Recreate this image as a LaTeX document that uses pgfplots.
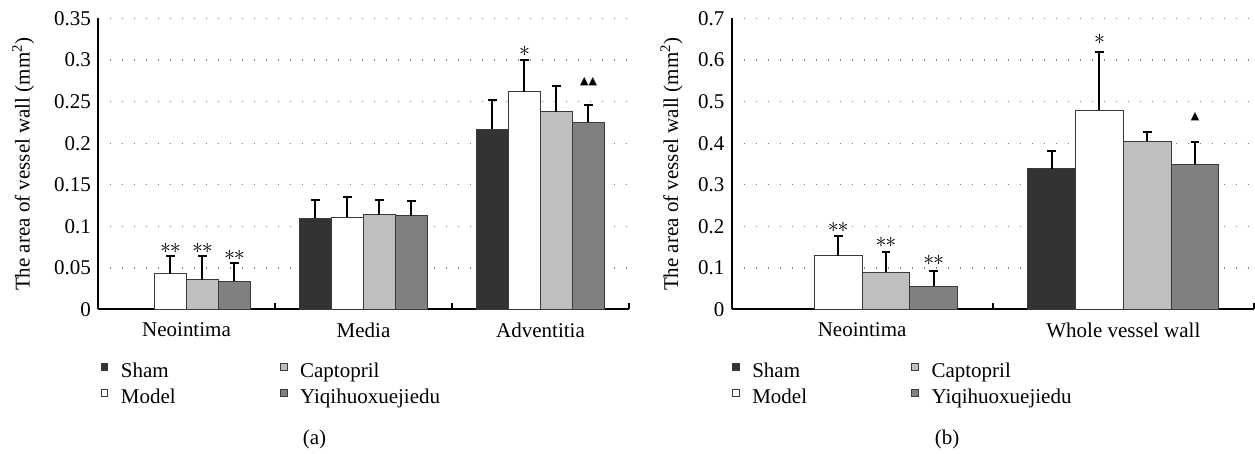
\documentclass[border=0pt]{standalone}
\usepackage{pgfplots}
\pgfplotsset{compat=1.18}
\usepackage{fontspec}
\setmainfont{Liberation Serif}
\newfontfamily\trifont{DejaVu Sans}
\definecolor{cSham}{HTML}{333333}
\definecolor{cCapt}{HTML}{BFBFBF}
\definecolor{cYiqi}{HTML}{808080}
\definecolor{cEdge}{HTML}{3A3A3A}
\pgfplotsset{
  sq/.style={legend image code/.code={\draw[##1, line width=0.5pt] (0pt,0.9pt) rectangle (3.4pt,4.3pt);}},
  errb/.style={error bars/.cd, y dir=plus, y explicit,
    error bar style={line width=1pt, black, solid},
    error mark options={line width=1pt, black, mark size=2.2pt, rotate=90}},
  mybars/.style={
    ybar=0pt, scale only axis, height=145.5pt, ymin=0, enlargelimits=false,
    axis lines=left, axis line style={-, line width=1pt, black},
    every outer x axis line/.append style={-}, every outer y axis line/.append style={-},
    ymajorgrids, major grid style={gray, line width=0.7pt, dash pattern=on 0.7pt off 5.3pt},
    ytick style={draw=none},
    xtick style={line width=1pt, black},
    tick align=inside, major tick length=3pt,
    xticklabels={},
    extra x tick style={major tick length=0pt},
    xticklabel style={yshift=-3pt},
    yticklabel style={/pgf/number format/fixed, /pgf/number format/precision=2, /pgf/number format/assume math mode=true, font=\rmfamily\fontsize{10.5}{12.6}\selectfont},
    yticklabel={\rmfamily\pgfmathprintnumber{\tick}},
    ylabel={The area of vessel wall (mm\textsuperscript{2})},
    clip=false,
    legend columns=2, transpose legend, legend cell align=left,
    legend style={anchor=north west, draw=none, fill=none, inner sep=0pt, row sep=3pt,
      nodes={inner sep=0pt, text height=7.5pt, text depth=2.5pt},
      /tikz/every odd column/.append style={column sep=6.3pt},
      /tikz/every even column/.append style={column sep=52pt}},
  },
  sham/.style={fill=cSham, draw=cEdge, line width=0.5pt, sq, errb},
  model/.style={fill=white, draw=cEdge, line width=0.5pt, sq, errb},
  capt/.style={fill=cCapt, draw=cEdge, line width=0.5pt, sq, errb},
  yiqi/.style={fill=cYiqi, draw=cEdge, line width=0.5pt, sq, errb},
}
\newcommand{\dstar}{{\fontsize{11}{12}\selectfont$\ast\mkern-1mu\ast$}}
\newcommand{\sstar}{{\fontsize{11}{12}\selectfont$\ast$}}
\newcommand{\tri}{{\trifont\fontsize{5.5}{6}\selectfont ▲}}
\begin{document}
\begin{tikzpicture}[font=\fontsize{10.5}{12.6}\selectfont]
\useasboundingbox (0,0) rectangle (627.5pt,227pt);
% ---------------- (a)
\begin{axis}[mybars, at={(49pt,72.25pt)}, anchor=south west, width=265.5pt, bar width=16pt,
  xmin=-0.5, xmax=2.5, ymax=0.35,
  ytick={0,0.05,0.1,0.15,0.2,0.25,0.3,0.35},
  xtick={0.5,1.5,2.5},
  extra x ticks={0,1,2}, extra x tick labels={Neointima,Media,Adventitia},
  ylabel style={at={(rel axis cs:-0.141,0.5)}, anchor=center},
  legend style={at={(rel axis cs:0.004,-0.18)}}]
\addplot[sham] coordinates {(1,0.110) +- (0,0.022) (2,0.217) +- (0,0.035)};
\addplot[model] coordinates {(0,0.043) +- (0,0.021) (1,0.111) +- (0,0.024) (2,0.262) +- (0,0.038)};
\addplot[capt] coordinates {(0,0.036) +- (0,0.028) (1,0.114) +- (0,0.018) (2,0.238) +- (0,0.031)};
\addplot[yiqi] coordinates {(0,0.034) +- (0,0.022) (1,0.113) +- (0,0.017) (2,0.225) +- (0,0.021)};
\legend{Sham,Model,Captopril,Yiqihuoxuejiedu}
\node[xshift=-8pt] at (axis cs:0,0.073) {\dstar};
\node[xshift=8pt] at (axis cs:0,0.074) {\dstar};
\node[xshift=24pt] at (axis cs:0,0.065) {\dstar};
\node[xshift=-8pt] at (axis cs:2,0.311) {\sstar};
\node[xshift=24pt] at (axis cs:2,0.274) {\tri\tri};
\end{axis}
% ---------------- (b)
\begin{axis}[mybars, at={(365.75pt,72.25pt)}, anchor=south west, width=261.25pt, bar width=23.9pt,
  xmin=-0.5, xmax=1.5, ymax=0.7,
  ytick={0,0.1,0.2,0.3,0.4,0.5,0.6,0.7},
  xtick={0.5,1.5},
  extra x ticks={0,1}, extra x tick labels={Neointima,Whole vessel wall},
  ylabel style={at={(rel axis cs:-0.115,0.5)}, anchor=center},
  legend style={at={(rel axis cs:0.0,-0.18)}}]
\addplot[sham] coordinates {(1,0.338) +- (0,0.043)};
\addplot[model] coordinates {(0,0.129) +- (0,0.048) (1,0.479) +- (0,0.140)};
\addplot[capt] coordinates {(0,0.090) +- (0,0.049) (1,0.405) +- (0,0.021)};
\addplot[yiqi] coordinates {(0,0.056) +- (0,0.037) (1,0.349) +- (0,0.055)};
\legend{Sham,Model,Captopril,Yiqihuoxuejiedu}
\node[xshift=-11.95pt] at (axis cs:0,0.198) {\dstar};
\node[xshift=11.95pt] at (axis cs:0,0.161) {\dstar};
\node[xshift=35.85pt] at (axis cs:0,0.119) {\dstar};
\node[xshift=-11.95pt] at (axis cs:1,0.650) {\sstar};
\node[xshift=35.85pt] at (axis cs:1,0.465) {\tri};
\end{axis}
\node at (157.25pt,7.5pt) {(a)};
\node at (473.5pt,7.5pt) {(b)};
\end{tikzpicture}
\end{document}
